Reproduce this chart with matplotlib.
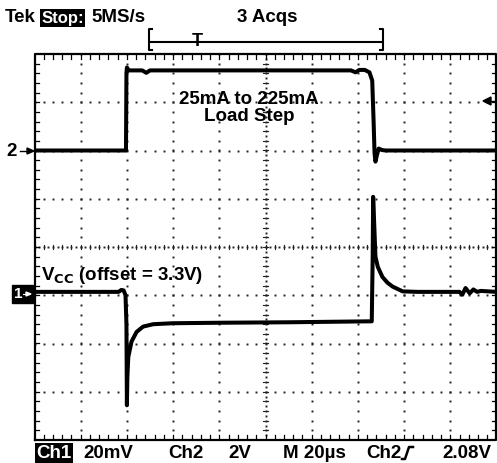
import numpy as np
import matplotlib
matplotlib.use("Agg")
import matplotlib.pyplot as plt
from matplotlib.lines import Line2D
from matplotlib.patches import Rectangle, Polygon

plt.rcParams['font.family'] = ['Liberation Sans', 'DejaVu Sans']
plt.rcParams['font.weight'] = 'bold'

# screen traces, in divisions (x: 0..10, y: -4..4)
ch2_t = [0.0, 1.98, 1.99, 2.0, 2.04, 2.33, 2.42, 2.5, 6.85, 6.95, 7.03,
         7.15, 7.25, 7.31, 7.34, 7.36, 7.38, 7.41, 7.45, 7.52, 7.6, 10.0]
ch2_v = [2.0, 2.0, 3.6, 3.72, 3.66, 3.66, 3.61, 3.66, 3.66, 3.62, 3.67,
         3.67, 3.62, 3.45, 2.6, 1.95, 1.77, 1.9, 2.04, 2.01, 2.0, 2.0]

ch1_t = [0.0, 1.82, 1.88, 1.93, 1.97, 1.99, 2.0, 2.01, 2.03, 2.1, 2.21,
         2.35, 2.57, 2.99, 4.0, 5.5, 7.3, 7.32, 7.33, 7.36, 7.38, 7.43,
         7.53, 7.64, 7.75, 7.97, 8.3, 9.2, 9.26, 9.33, 9.42, 9.5, 9.58,
         9.66, 10.0]
ch1_v = [-0.93, -0.93, -0.89, -0.9, -1.0, -1.6, -3.28, -2.7, -2.28, -1.96,
         -1.76, -1.65, -1.6, -1.58, -1.57, -1.56, -1.54, -0.2, 1.04, 0.3,
         -0.2, -0.41, -0.62, -0.74, -0.82, -0.92, -0.93, -0.93, -0.99,
         -0.85, -0.96, -0.88, -0.93, -0.91, -0.93]

top_left = "Tek"
top_stop = "Stop:"
top_rate = "5MS/s"
top_acqs = "3 Acqs"
load_text = "25mA to 225mA\nLoad Step"
vcc_text = r"V$_{\mathbf{CC}}$ (offset = 3.3V)"
bottom_labels = [("20mV", 83), ("Ch2", 168), ("2V", 228), ("M 20µs", 283),
                 ("Ch2", 366), ("2.08V", 442)]

W, H = 497, 463
fig = plt.figure(figsize=(W / 100, H / 100), dpi=100)


def fp(x, y):
    return x / W, 1 - y / H


ax = fig.add_axes([34.5 / W, 23 / H, 462 / W, 386 / H])
ax.set_xlim(0, 10)
ax.set_ylim(-4, 4)
ax.axis('off')

dot = dict(ls='none', marker='s', ms=1.4, mew=0, color='#222222')
fine = np.arange(0, 10.01, 0.2)
fine_y = np.arange(-4, 4.01, 0.2)

# grid of dots
for gx in range(1, 10):
    if gx == 5:
        continue
    ax.plot([gx] * len(fine_y), fine_y, **dot)
for gy in range(-3, 4):
    if gy == 0:
        continue
    ax.plot(fine, [gy] * len(fine), **dot)

# centre lines with minor ticks
ax.plot(np.arange(0, 10.01, 0.1), np.zeros(101), **dot)
ax.plot(np.full(81, 5.0), np.arange(-4, 4.01, 0.1), **dot)
for t in fine:
    ax.plot([t, t], [-0.05, 0.05], color='#222222', lw=0.8)
for t in fine_y:
    ax.plot([4.95, 5.05], [t, t], color='#222222', lw=0.8)

# frame and edge ticks
ax.plot([0, 10, 10, 0, 0], [-4, -4, 4, 4, -4], color='black', lw=1.6,
        clip_on=False)
for t in fine[1:-1]:
    ax.plot([t, t], [4, 3.9], color='black', lw=0.9)
    ax.plot([t, t], [-4, -3.9], color='black', lw=0.9)
for t in fine_y[1:-1]:
    ax.plot([0, 0.1], [t, t], color='black', lw=0.9)
    ax.plot([10, 9.9], [t, t], color='black', lw=0.9)

# traces
ax.plot(ch2_t, ch2_v, color='black', lw=2.9, solid_joinstyle='round',
        solid_capstyle='round')
ax.plot(ch1_t, ch1_v, color='black', lw=2.9, solid_joinstyle='round',
        solid_capstyle='round')

fs = 13.5
# header
fig.text(*fp(5, 18), top_left, fontsize=fs, va='center', ha='left')
fig.text(*fp(41.5, 18), top_stop, fontsize=12, va='center', ha='left',
         color='white', bbox=dict(facecolor='black', edgecolor='none',
                                  boxstyle='square,pad=0.08'))
fig.text(*fp(91, 18), top_rate, fontsize=fs, va='center', ha='left')
fig.text(*fp(267, 18), top_acqs, fontsize=fs, va='center', ha='center')

# record bracket
br = dict(color='black', lw=1.5, transform=fig.transFigure)
fig.add_artist(Line2D(*zip(fp(150, 42), fp(382, 42)), **br))
fig.add_artist(Line2D(*zip(fp(152, 29), fp(149, 29), fp(149, 50), fp(152, 50)), **br))
fig.add_artist(Line2D(*zip(fp(380, 29), fp(383, 29), fp(383, 50), fp(380, 50)), **br))
fig.text(*fp(197.5, 42), "T", fontsize=13, va='center', ha='center')

# annotations
fig.text(*fp(249, 108), load_text, fontsize=fs, va='center', ha='center',
         linespacing=1.0)
fig.text(*fp(41, 276), vcc_text, fontsize=fs, va='center', ha='left')

# channel markers
fig.text(*fp(12, 151), "2", fontsize=fs, va='center', ha='center')
fig.add_artist(Line2D(*zip(fp(20, 151), fp(30, 151)), color='black', lw=1,
                      transform=fig.transFigure))
fig.add_artist(Polygon([fp(27, 148), fp(34, 151), fp(27, 154)], closed=True,
                       color='black', transform=fig.transFigure))
fig.add_artist(Rectangle(fp(12, 303), 21 / W, 18 / H, color='black',
                         transform=fig.transFigure))
fig.text(*fp(18, 294), "1", fontsize=11, va='center', ha='center', color='white')
fig.add_artist(Line2D(*zip(fp(23, 294), fp(28, 294)), color='white', lw=0.8,
                      transform=fig.transFigure))
fig.add_artist(Polygon([fp(26, 292), fp(31, 294), fp(26, 296)], closed=True,
                       color='white', transform=fig.transFigure))

# trigger level arrow
fig.add_artist(Line2D(*zip(fp(488, 101), fp(497, 101)), color='black', lw=1,
                      transform=fig.transFigure))
fig.add_artist(Polygon([fp(491, 97), fp(483, 101), fp(491, 105)], closed=True,
                       color='black', transform=fig.transFigure))

# bottom status line
fig.text(*fp(36, 453), "Ch1", fontsize=fs, va='center', ha='left',
         color='white', bbox=dict(facecolor='black', edgecolor='none',
                                  boxstyle='square,pad=0.08'))
for label, x0 in bottom_labels:
    fig.text(*fp(x0, 453), label, fontsize=fs, va='center', ha='left')
fig.add_artist(Line2D(*zip(fp(402, 459), fp(405, 459), fp(409, 447), fp(413, 447)),
                      color='black', lw=1.8, transform=fig.transFigure))

fig.savefig("out.png", dpi=100, facecolor='white')
